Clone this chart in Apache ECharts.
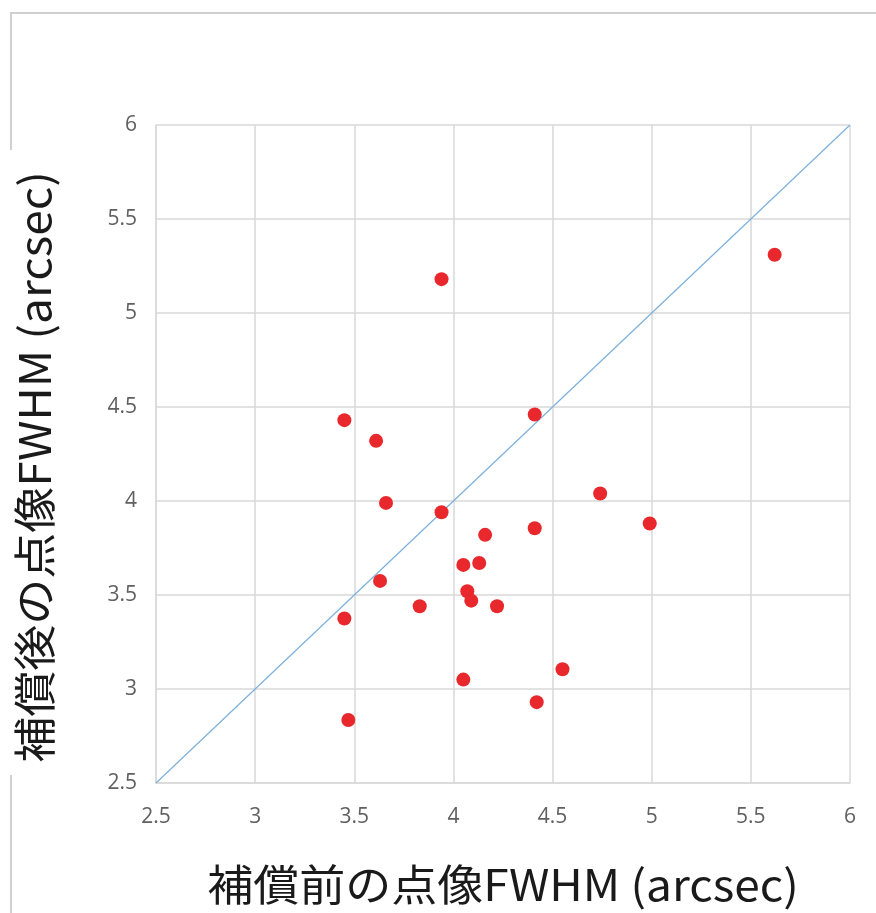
<!DOCTYPE html>
<html>
<head>
<meta charset="utf-8">
<script src="https://cdn.jsdelivr.net/npm/echarts@6/dist/echarts.min.js"></script>
<style>html,body{margin:0;padding:0;background:#fff}#c{width:876px;height:913px}</style>
</head>
<body>
<div id="c"></div>
<script>
// data: before-correction FWHM (x) vs after-correction FWHM (y), arcsec
const beforeFWHM = [3.45, 3.61, 4.41, 3.66, 3.94, 4.74, 4.99, 4.41, 4.16, 4.05, 4.13, 3.63, 4.07, 4.09, 3.83, 4.22, 3.45, 4.55, 4.05, 4.42, 3.47, 3.94, 5.62];
const afterFWHM  = [4.43, 4.32, 4.46, 3.99, 3.94, 4.04, 3.88, 3.855, 3.82, 3.66, 3.67, 3.575, 3.52, 3.47, 3.44, 3.44, 3.375, 3.105, 3.05, 2.93, 2.835, 5.18, 5.31];
const diagX = [2.5, 6];
const diagY = [2.5, 6];
const xTitle = '補償前の点像FWHM (arcsec)';
const yTitle = '補償後の点像FWHM (arcsec)';

const chart = echarts.init(document.getElementById('c'));
const axisCommon = {
  type: 'value', min: 2.5, max: 6, interval: 0.5,
  axisLine: { show: true, lineStyle: { color: '#d9d9d9', width: 1.5 } },
  axisTick: { show: false },
  splitLine: { show: true, lineStyle: { color: '#d9d9d9', width: 1.5 } },
  axisLabel: { color: '#606060', fontSize: 21, fontFamily: 'Open Sans' }
};
chart.setOption({
  animation: false,
  backgroundColor: '#fff',
  grid: { left: 156, right: 26, top: 125, bottom: 130 },
  xAxis: Object.assign({}, axisCommon, { axisLabel: Object.assign({}, axisCommon.axisLabel, { margin: 24 }) }),
  yAxis: Object.assign({}, axisCommon, { axisLabel: Object.assign({}, axisCommon.axisLabel, { margin: 19 }) }),
  graphic: [
    { type: 'rect', shape: { x: 11, y: 13, width: 880, height: 920 }, style: { fill: 'none', stroke: '#d0d0d0', lineWidth: 2 }, z: 0 },
    { type: 'rect', shape: { x: 6, y: 150, width: 62, height: 625 }, style: { fill: '#fff' }, z: 1 },
    { type: 'text', x: 503, y: 885, scaleX: 1.07, style: { text: xTitle, fontSize: 43, fontFamily: 'Noto Sans CJK JP', fill: '#1a1a1a', align: 'center', verticalAlign: 'middle' }, z: 5 },
    { type: 'text', x: 35, y: 467, rotation: Math.PI / 2, scaleX: 1.07, style: { text: yTitle, fontSize: 43, fontFamily: 'Noto Sans CJK JP', fill: '#1a1a1a', align: 'center', verticalAlign: 'middle' }, z: 5 }
  ],
  series: [
    { type: 'line', data: diagX.map((v, i) => [v, diagY[i]]), symbol: 'none', lineStyle: { color: '#7bb0dd', width: 1.2 }, z: 2 },
    { type: 'scatter', data: beforeFWHM.map((v, i) => [v, afterFWHM[i]]), symbolSize: 14, itemStyle: { color: '#e8282c', opacity: 1 }, z: 3 }
  ]
});
</script>
</body>
</html>
